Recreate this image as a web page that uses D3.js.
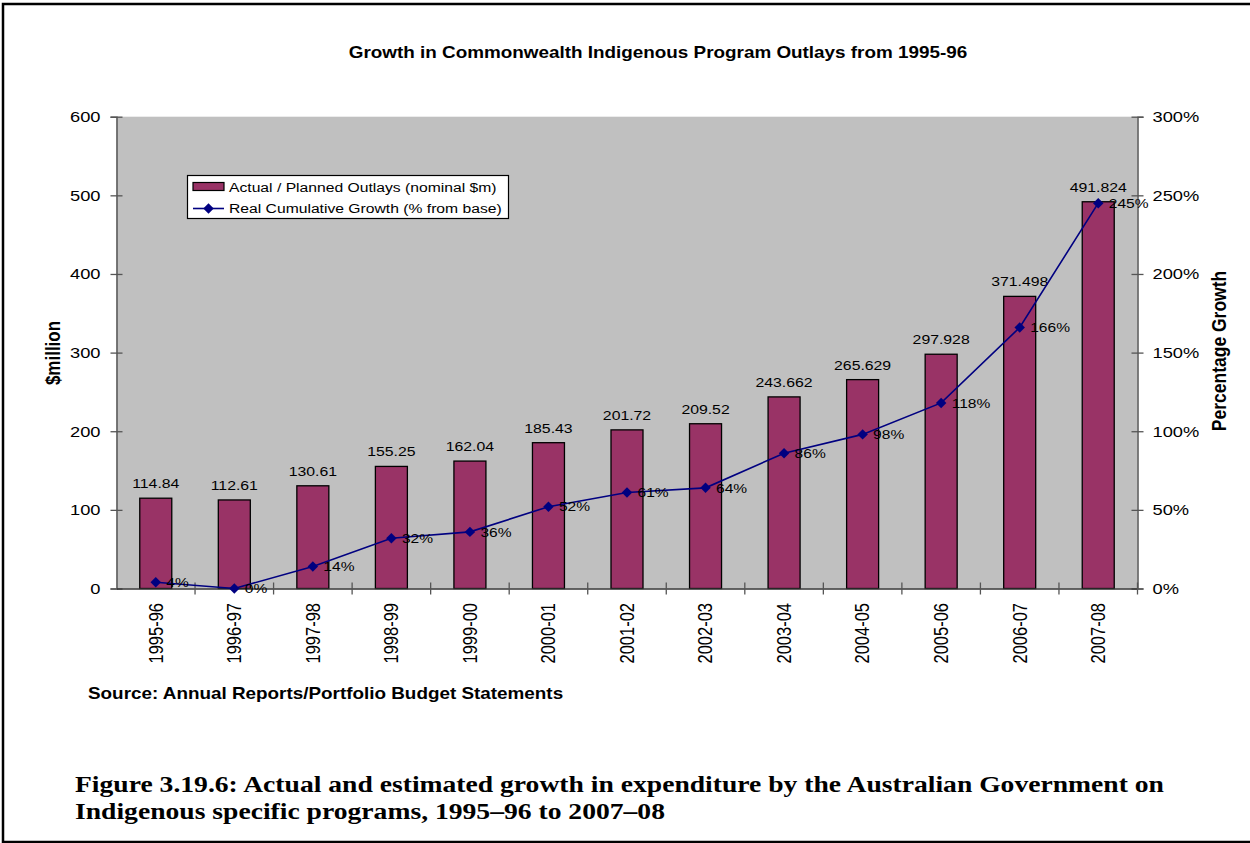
<!DOCTYPE html>
<html>
<head>
<meta charset="utf-8">
<script src="https://cdn.jsdelivr.net/npm/d3@7"></script>
<style>
  html, body { margin: 0; padding: 0; background: #fff; }
  svg { display: block; }
  svg text { font-family: "Liberation Sans", Arial, sans-serif; fill: #000; }
  svg text.caption { font-family: "Liberation Serif", "DejaVu Serif", serif; }
</style>
</head>
<body>
<svg id="chart" width="1250" height="843"></svg>
<script>
// Financial years on the category axis
const years = ["1995-96","1996-97","1997-98","1998-99","1999-00","2000-01","2001-02",
               "2002-03","2003-04","2004-05","2005-06","2006-07","2007-08"];
// Actual / planned outlays, nominal $ million
const outlays = [114.84, 112.61, 130.61, 155.25, 162.04, 185.43, 201.72,
                 209.52, 243.662, 265.629, 297.928, 371.498, 491.824];
// Real cumulative growth, % from base
const growth = [4, 0, 14, 32, 36, 52, 61, 64, 86, 98, 118, 166, 245];
// Axis ticks
const leftTicks = [0, 100, 200, 300, 400, 500, 600];
const rightTicks = [0, 50, 100, 150, 200, 250, 300];

const seriesNames = ["Actual / Planned Outlays (nominal $m)", "Real Cumulative Growth (% from base)"];
const titleText = "Growth in Commonwealth Indigenous Program Outlays from 1995-96";
const sourceText = "Source: Annual Reports/Portfolio Budget Statements";
const captionLines = [
  "Figure 3.19.6: Actual and estimated growth in expenditure by the Australian Government on",
  "Indigenous specific programs, 1995\u201396 to 2007\u201308"
];

const svg = d3.select("#chart");
const plot = { left: 116.5, right: 1137.5, top: 116.7, bottom: 588.5 };
const SX = 1.18;   // horizontal widening of the chart's lettering

// Place a text element at (x, y) with widened glyphs, optionally rotated
function widen(sel, rot) {
  sel.each(function () {
    const t = d3.select(this);
    const x = +t.attr("x") || 0, y = +t.attr("y") || 0;
    t.attr("x", 0).attr("y", 0)
     .attr("transform", `translate(${x},${y}) scale(${SX},1)` + (rot ? ` rotate(${rot})` : ""));
  });
  return sel;
}

const x = d3.scaleBand().domain(years).range([plot.left, plot.right]).paddingInner(0).paddingOuter(0);
const yL = d3.scaleLinear().domain([0, 600]).range([plot.bottom, plot.top]);
const yR = d3.scaleLinear().domain([0, 300]).range([plot.bottom, plot.top]);
const barW = 32;

// Page frame
svg.append("path")
  .attr("d", "M1252,4 L3,4 L3,842 L1252,842")
  .attr("fill", "none").attr("stroke", "#000").attr("stroke-width", 2.5);

// Chart title
widen(svg.append("text")
  .attr("x", 658).attr("y", 58).attr("text-anchor", "middle")
  .attr("font-weight", "bold").attr("font-size", 16)
  .text(titleText));

// Plot area
svg.append("rect")
  .attr("x", plot.left).attr("y", plot.top)
  .attr("width", plot.right - plot.left).attr("height", plot.bottom - plot.top)
  .attr("fill", "#c0c0c0");

// Bars
svg.append("g").selectAll("rect").data(outlays).join("rect")
  .attr("x", (d, i) => x(years[i]) + x.bandwidth() / 2 - barW / 2)
  .attr("y", d => yL(d))
  .attr("width", barW)
  .attr("height", d => yL(0) - yL(d))
  .attr("fill", "#993366").attr("stroke", "#000").attr("stroke-width", 1.3);

// Bar value labels
widen(svg.append("g").selectAll("text").data(outlays).join("text")
  .attr("x", (d, i) => x(years[i]) + x.bandwidth() / 2)
  .attr("y", d => yL(d) - 10)
  .attr("text-anchor", "middle").attr("font-size", 13.4)
  .text(d => String(d)));

// Axes
const axisColor = "#555";
const leftAxis = svg.append("g").attr("transform", `translate(${plot.left},0)`)
  .call(d3.axisLeft(yL).tickValues(leftTicks).tickSize(6).tickPadding(10));
leftAxis.selectAll(".tick line").attr("x2", 6).attr("x1", -6);
const rightAxis = svg.append("g").attr("transform", `translate(${plot.right},0)`)
  .call(d3.axisRight(yR).tickValues(rightTicks).tickSize(6).tickPadding(9)
        .tickFormat(d => d + "%"));
rightAxis.selectAll(".tick line").attr("x1", -6).attr("x2", 6);
const bottomAxis = svg.append("g").attr("transform", `translate(0,${plot.bottom})`)
  .call(d3.axisBottom(x).tickSize(0).tickPadding(0));
[leftAxis, rightAxis, bottomAxis].forEach(g => {
  g.select(".domain").attr("stroke", axisColor).attr("stroke-width", 1.5);
  g.selectAll(".tick line").attr("stroke", axisColor).attr("stroke-width", 1.3);
  g.selectAll(".tick text").attr("font-size", 15.5).attr("fill", "#000");
});
widen(leftAxis.selectAll(".tick text"));
widen(rightAxis.selectAll(".tick text"));
bottomAxis.select(".domain").attr("stroke", "#333");
// Category separators on the x axis
bottomAxis.selectAll("line.sep").data(years).join("line")
  .attr("class", "sep")
  .attr("x1", (d, i) => plot.left + x.bandwidth() * (i + 1))
  .attr("x2", (d, i) => plot.left + x.bandwidth() * (i + 1))
  .attr("y1", -6).attr("y2", 6)
  .attr("stroke", axisColor).attr("stroke-width", 1.3);
bottomAxis.selectAll(".tick text")
  .attr("font-size", 16.5)
  .attr("text-anchor", "end")
  .attr("x", 0).attr("y", 14.5).attr("dy", "0.35em");
widen(bottomAxis.selectAll(".tick text"), -90);

// Axis titles
widen(svg.append("text")
  .attr("x", 60).attr("y", 353)
  .attr("text-anchor", "middle").attr("font-weight", "bold").attr("font-size", 17)
  .text("$million"), -90);
widen(svg.append("text")
  .attr("x", 1226).attr("y", 351)
  .attr("text-anchor", "middle").attr("font-weight", "bold").attr("font-size", 17.5)
  .text("Percentage Growth"), -90);

// Growth line
const cx = i => x(years[i]) + x.bandwidth() / 2;
const line = d3.line().x((d, i) => cx(i)).y(d => yR(d));
svg.append("path").datum(growth)
  .attr("d", line).attr("fill", "none").attr("stroke", "#000080").attr("stroke-width", 1.6);
const diamond = d3.symbol().type(d3.symbolDiamond2).size(70);
svg.append("g").selectAll("path").data(growth).join("path")
  .attr("transform", (d, i) => `translate(${cx(i)},${yR(d)})`)
  .attr("d", diamond).attr("fill", "#000080");
widen(svg.append("g").selectAll("text").data(growth).join("text")
  .attr("x", (d, i) => cx(i) + 10.5)
  .attr("y", d => yR(d) + 4.7)
  .attr("font-size", 13.2)
  .text(d => d + "%"));

// Legend
const lg = svg.append("g");
lg.append("rect").attr("x", 187.5).attr("y", 175.5).attr("width", 321).attr("height", 43)
  .attr("fill", "#fff").attr("stroke", "#000").attr("stroke-width", 1.2);
lg.append("rect").attr("x", 193).attr("y", 182.5).attr("width", 31).attr("height", 8)
  .attr("fill", "#993366").attr("stroke", "#000").attr("stroke-width", 1.2);
lg.append("line").attr("x1", 193).attr("x2", 224).attr("y1", 208.5).attr("y2", 208.5)
  .attr("stroke", "#000080").attr("stroke-width", 1.6);
lg.append("path").attr("transform", "translate(208.5,208.5)").attr("d", diamond).attr("fill", "#000080");
widen(lg.selectAll("text.item").data(seriesNames).join("text").attr("class", "item")
  .attr("x", 229).attr("y", (d, i) => 192 + i * 21)
  .attr("font-size", 13.3).text(d => d));

// Source note
widen(svg.append("text")
  .attr("x", 88).attr("y", 699).attr("font-weight", "bold").attr("font-size", 16)
  .text(sourceText));

// Figure caption, first line spans the text block width
const capText = svg.append("g").selectAll("text").data(captionLines).join("text")
  .attr("class", "caption")
  .attr("x", 75).attr("y", (d, i) => 792 + i * 27)
  .attr("font-weight", "bold").attr("font-size", 23.5)
  .text(d => d);
const capLen = capText.node().getComputedTextLength();
const capSX = 1090 / capLen;
capText.each(function (d, i) {
  d3.select(this).attr("x", 0).attr("y", 0)
    .attr("transform", `translate(75,${792 + i * 27}) scale(${capSX},1)`);
});
</script>
</body>
</html>
